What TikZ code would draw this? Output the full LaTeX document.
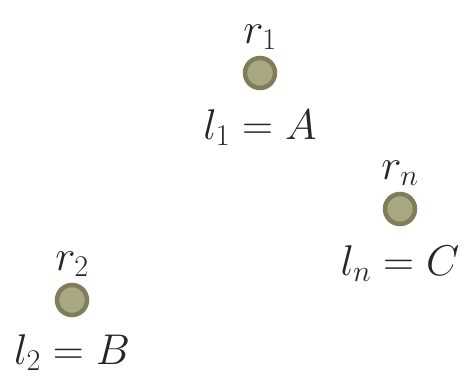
\documentclass[tikz,border=0pt]{standalone}
\usepackage{fix-cm}
\usepackage{tikz}
\usetikzlibrary{positioning}
\definecolor{dotfill}{RGB}{169, 168, 130}
\definecolor{dotrim}{RGB}{128, 125, 92}
\definecolor{inkdark}{RGB}{38, 38, 38}

\begin{document}
\begin{tikzpicture}[
  x=1pt, y=-1pt,
  dot/.style={circle, draw=dotrim, fill=dotfill, line width=4.5pt, minimum size=30pt, inner sep=0pt},
  rlabel/.style={inner sep=0pt, text=inkdark, font=\fontsize{43}{51}\selectfont},
  llabel/.style={inner sep=0pt, text=inkdark, font=\fontsize{43}{51}\selectfont}
]
  \useasboundingbox (0,0) rectangle (468,380);

  % Points
  \node[dot] (p1) at (260, 73) {};
  \node[dot] (p2) at (72, 300) {};
  \node[dot] (pn) at (400, 209) {};

  % Labels above
  \node[rlabel, above=6pt of p1] (r1) {$r_1$};
  \node[rlabel, above=6pt of p2] (r2) {$r_2$};
  \node[rlabel, above=6pt of pn] (rn) {$r_n$};

  % Labels below
  \node[llabel, below=19pt of p1] (l1) {$l_1 = A$};
  \node[llabel, below=17pt of p2] (l2) {$l_2 = B$};
  \node[llabel, below=19pt of pn] (ln) {$l_n = C$};
\end{tikzpicture}
\end{document}
